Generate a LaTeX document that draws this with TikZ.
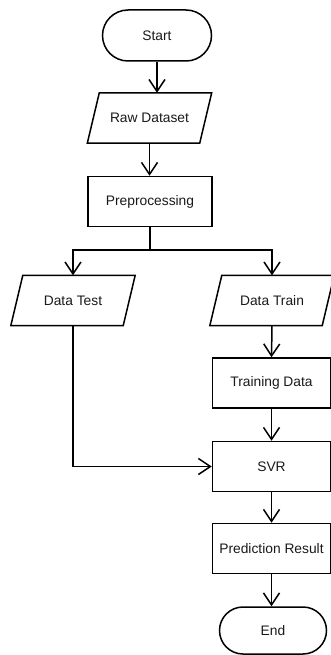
\documentclass[tikz,border=0pt]{standalone}
\usepackage{fontspec}
\setmainfont{Liberation Sans}
\usetikzlibrary{arrows.meta}
\begin{document}
\begin{tikzpicture}[x=1pt,y=-1pt,
  line/.style={draw=black,line width=1.5pt},
  arr/.style={line,-{Straight Barb[length=12pt,width=16pt,line width=1.5pt]}},
  label/.style={font=\fontsize{13.8pt}{16pt}\selectfont,text=black!90,inner sep=0pt},
  terminal/.style={label,line,rounded corners=23.5pt,minimum height=47pt},
  procbox/.style={label,line,minimum width=118pt,minimum height=50pt},
  iobox/.style={label,minimum width=112pt,minimum height=50pt}]
\useasboundingbox (0,0) rectangle (331,655);

% terminals
\node[terminal,minimum width=109pt,minimum height=51pt,rounded corners=25.5pt] (start) at (157,35.5) {Start};
\node[terminal,minimum width=107pt] (end) at (273,630.5) {End};

% input / output (parallelograms drawn around text nodes)
\node[iobox] (raw) at (149.5,118) {Raw Dataset};
\node[iobox] (test) at (73,300.5) {Data Test};
\node[iobox] (train) at (272,300.5) {Data Train};
\foreach \n in {raw,test,train}
  \draw[line] ([xshift=-6pt]\n.south west) -- ([xshift=-6pt]\n.south east)
    -- ([xshift=6pt]\n.north east) -- ([xshift=6pt]\n.north west) -- cycle;

% processes
\node[procbox,minimum width=124pt] (pre) at (150,201.5) {Preprocessing};
\node[procbox] (tdata) at (271.5,383) {Training Data};
\node[procbox] (svr) at (271.5,466.5) {SVR};
\node[procbox] (pred) at (271.5,548.5) {Prediction Result};

% connectors
\coordinate (split) at (150,250);
\draw[arr] (start) -- (start |- raw.north);
\draw[arr] (raw) -- (raw |- pre.north);
\draw[line] (pre.south) -- (split);
\draw[arr] (split) -| (test.north);
\draw[arr] (split) -| (train.north);
\draw[arr] (train.south) -- (tdata.north);
\draw[arr] (tdata) -- (svr);
\draw[arr] (test.south) |- (svr.west);
\draw[arr] (svr) -- (pred);
\draw[arr] (pred.south) -- (pred.south |- end.north);
\end{tikzpicture}
\end{document}
